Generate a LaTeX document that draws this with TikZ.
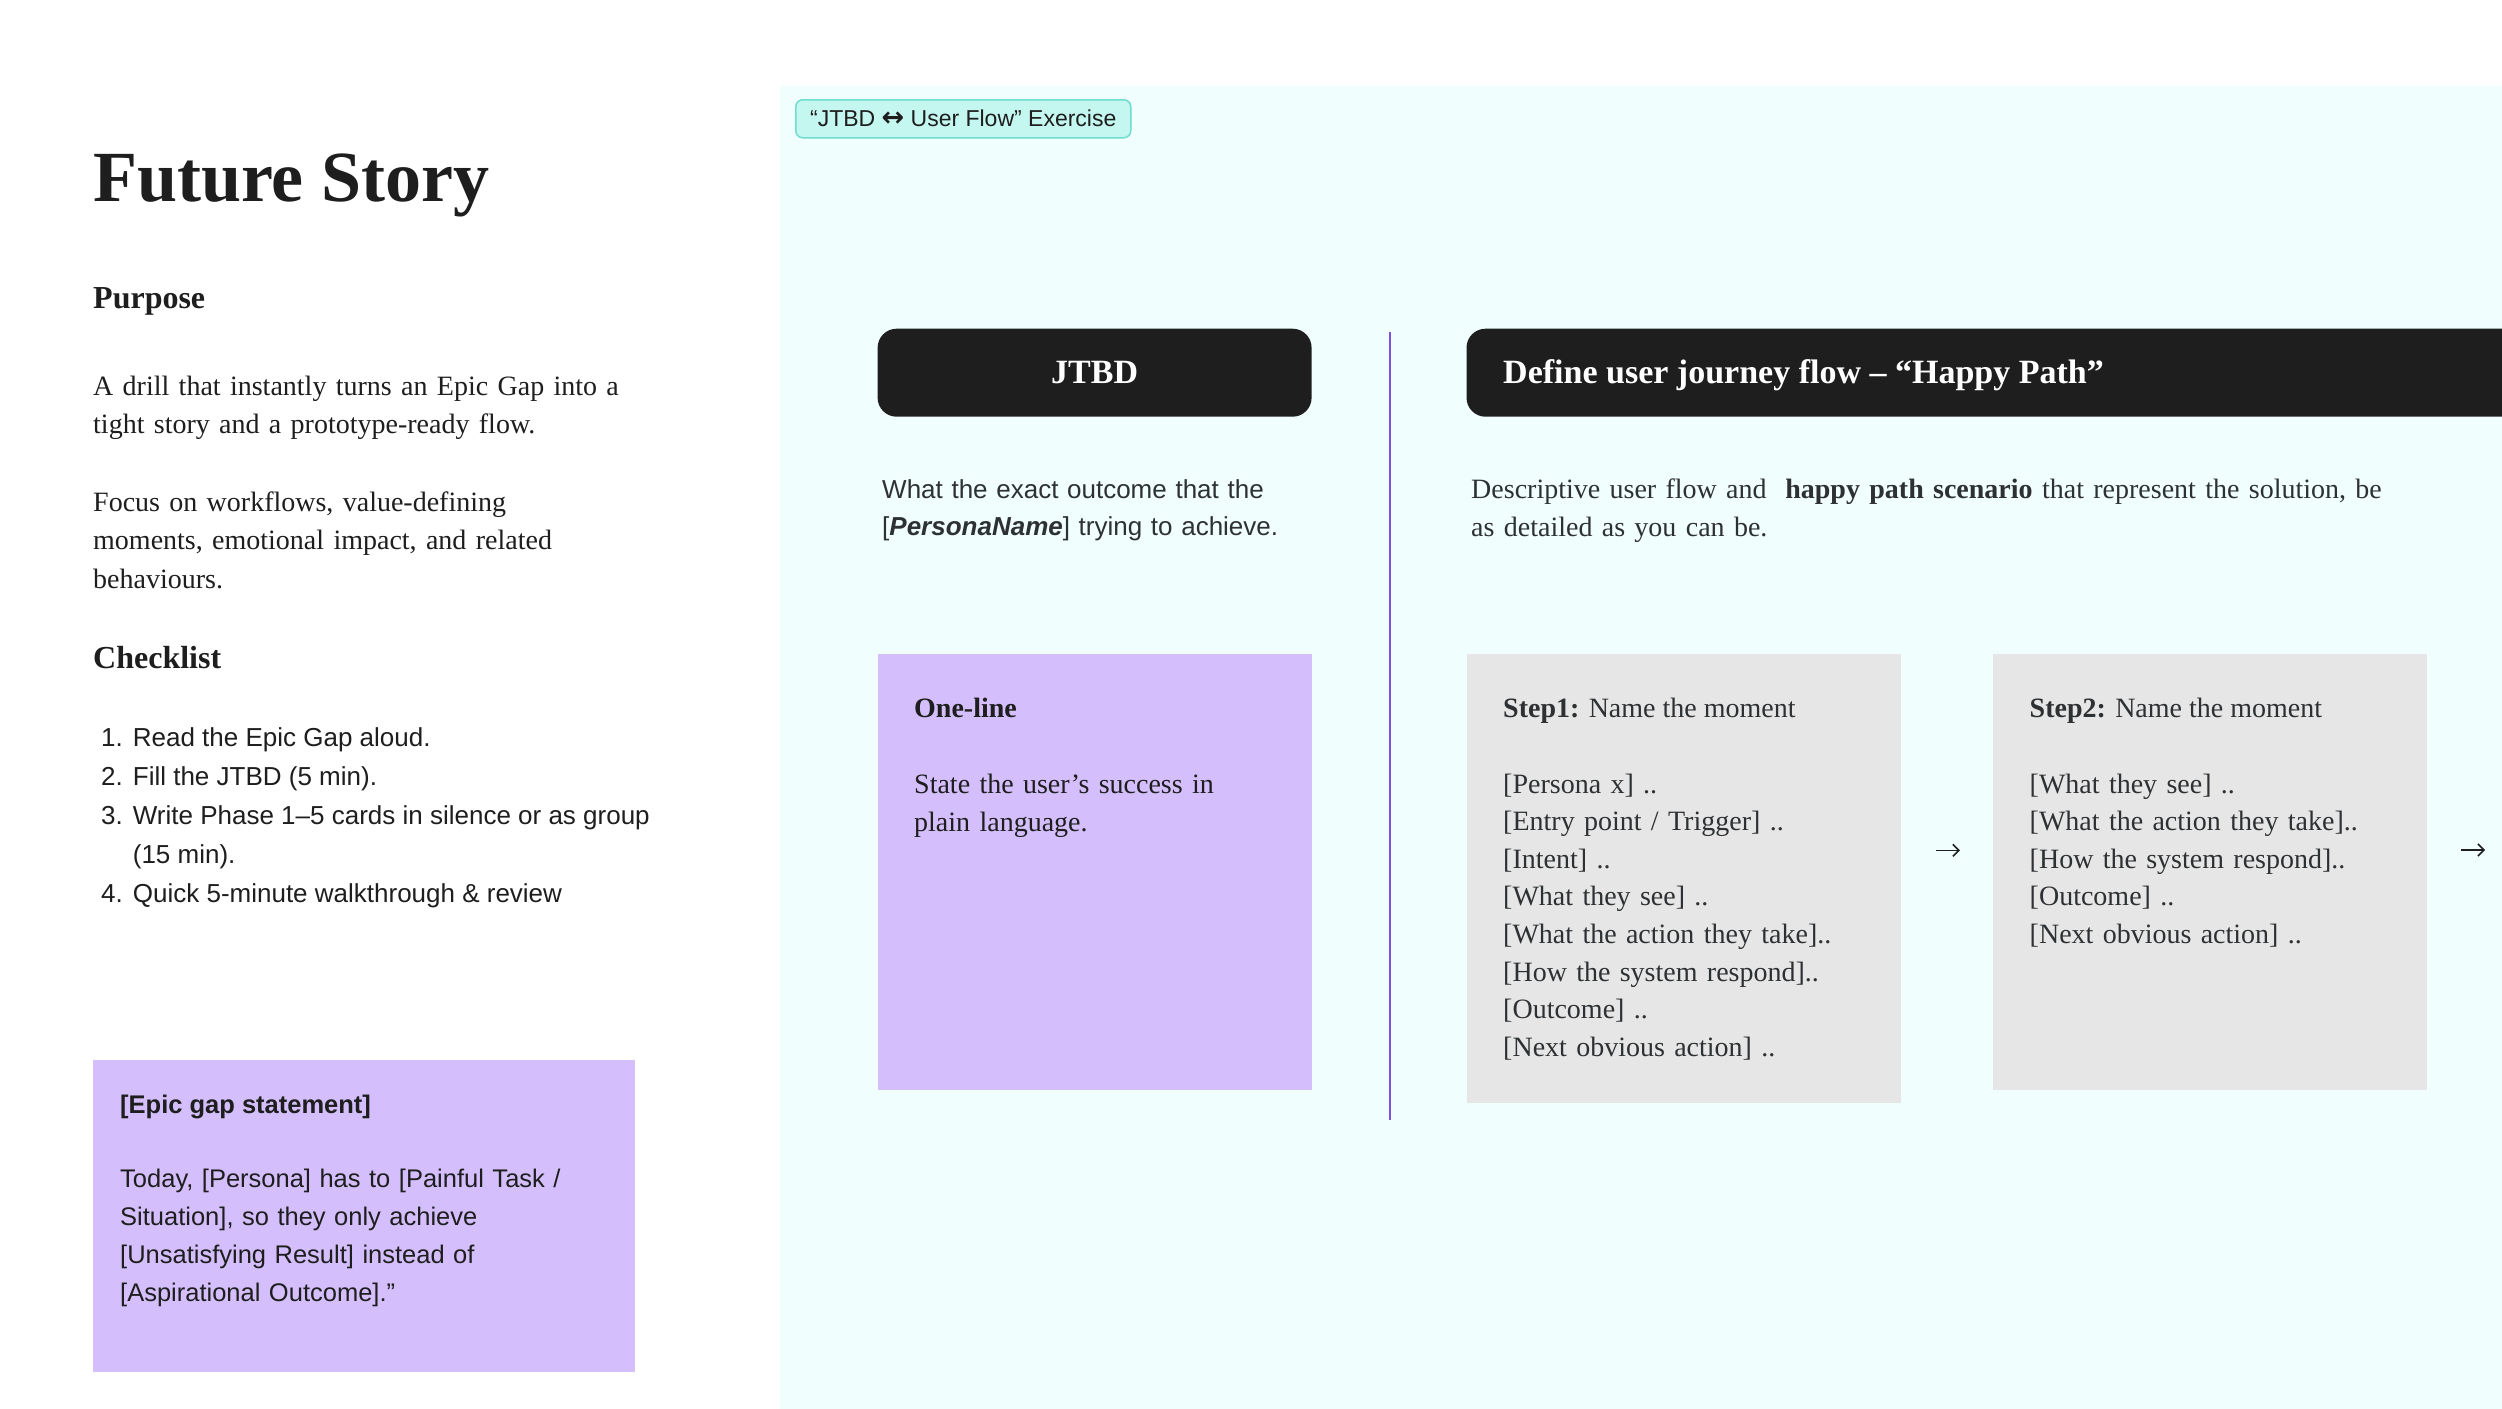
\documentclass[tikz,border=0pt]{standalone}
\usepackage{fontspec}
\setmainfont{Liberation Serif}
\setsansfont{Liberation Sans}
\newfontfamily\arrowfont{DejaVu Sans}
\usetikzlibrary{positioning, calc, arrows.meta}
\definecolor{ink}{HTML}{1E1E1E}
\definecolor{softink}{HTML}{2E3133}
\definecolor{lavanda}{HTML}{D4BFFC}
\definecolor{papel}{HTML}{E6E6E6}
\definecolor{lienzo}{HTML}{F0FEFE}
\definecolor{etiqueta}{HTML}{C5F7F1}
\definecolor{borde}{HTML}{6EDCD0}
\definecolor{divisor}{HTML}{7C4FE0}
\newcommand{\fttitle}{\fontsize{72}{80}\selectfont\bfseries}
\newcommand{\fthead}{\fontsize{32}{38}\selectfont\bfseries}
\newcommand{\ftbody}{\fontsize{28}{38.8}\selectfont}
\newcommand{\ftcard}{\fontsize{28}{37.6}\selectfont}
\newcommand{\ftlist}{\fontsize{26}{39}\selectfont\sffamily}
\newcommand{\ftdesc}{\fontsize{26}{37.5}\selectfont\sffamily}
\newcommand{\ftnote}{\fontsize{25.5}{38}\selectfont\sffamily}
\newcommand{\fttag}{\fontsize{23}{28}\selectfont\sffamily}
\newcommand{\ftbar}{\fontsize{34}{40}\selectfont\bfseries}
\tikzstyle{card} = [anchor=north west, inner sep=0pt, outer sep=0pt, minimum width=434pt]
\tikzstyle{purplecard} = [card, fill=lavanda]
\tikzstyle{greycard} = [card, fill=papel]
\tikzstyle{blackbar} = [anchor=north west, fill=ink, rounded corners=19pt, inner sep=0pt, outer sep=0pt, minimum height=88pt]
\tikzstyle{txt} = [anchor=base west, inner sep=0pt, text=ink]
\tikzstyle{flowarrow} = [line width=1.6pt, ink, -{Straight Barb[length=6pt,width=12pt]}]

\begin{document}
\begin{tikzpicture}[x=1pt, y=-1pt]
	\useasboundingbox (0,0) rectangle (2502,1408);
	\fill[white] (0,0) rectangle (2502,1408);
	\fill[lienzo, rounded corners=4pt] (780,86) rectangle (2540,1450);

	% left column
	\node[txt, font=\fttitle] (title) at (93,201) {Future Story};
	\node[txt, font=\fthead] (purpose) at (93,308) {Purpose};
	\node[txt, font=\ftbody, text width=620pt, align=left] (drill) at (93,395) {%
		A drill that instantly turns an Epic Gap into a\\
		tight story and a prototype-ready flow.};
	\node[txt, font=\ftbody, text width=620pt, align=left] (focus) at (93,511) {%
		Focus on workflows, value-defining\\
		moments, emotional impact, and related\\
		behaviours.};
	\node[txt, font=\fthead] (checklist) at (93,668) {Checklist};
	\node[txt, font=\ftlist] (steps) at (101,746) {%
		\begin{tabular}[t]{@{}l@{\hspace{10pt}}l@{}}
			1. & Read the Epic Gap aloud.\\
			2. & Fill the JTBD (5 min).\\
			3. & Write Phase 1–5 cards in silence or as group\\
			   & (15 min).\\
			4. & Quick 5-minute walkthrough \& review
		\end{tabular}};

	\node[purplecard, minimum width=542pt, minimum height=312pt] (epic) at (92.5,1059.5) {};
	\node[txt, font=\ftnote\bfseries] (epictitle) at ([xshift=27.5pt, yshift=-53.5pt]epic.north west) {[Epic gap statement]};
	\node[txt, font=\ftnote, text width=500pt, align=left] (epictext) at ([xshift=27.5pt, yshift=-127.5pt]epic.north west) {%
		Today, [Persona] has to [Painful Task /\\
		Situation], so they only achieve\\{}%
		[Unsatisfying Result] instead of\\{}%
		[Aspirational Outcome].”};

	% exercise panel
	\node[anchor=north west, fill=etiqueta, draw=borde, line width=1.5pt, rounded corners=7pt, minimum width=335pt, minimum height=38pt, inner sep=0pt, font=\fttag, text=ink] (exercise) at (795,99) {“JTBD {\arrowfont\bfseries\fontsize{27}{28}\selectfont ↔} User Flow” Exercise};

	\node[blackbar, minimum width=434pt] (jtbd) at (877.6,328.7) {};
	\node[anchor=base, inner sep=0pt, text=white, font=\ftbar] (jtbdlabel) at ([yshift=-54.3pt]jtbd.north) {JTBD};
	\node[txt, font=\ftdesc, text=softink, text width=420pt, align=left] (jtbddesc) at (882,498) {%
		What the exact outcome that the\\{}%
		[\textbf{\textit{PersonaName}}] trying to achieve.};

	\node[purplecard, minimum height=436pt] (oneline) at (877.6,654) {};
	\node[txt, font=\ftcard\bfseries] (onelinetitle) at ([xshift=36.4pt, yshift=-63pt]oneline.north west) {One-line};
	\node[txt, font=\ftbody, text width=380pt, align=left] (onelinetext) at ([xshift=36.4pt, yshift=-139pt]oneline.north west) {%
		State the user’s success in\\
		plain language.};

	\coordinate (divtop) at (1390,332);
	\coordinate (divbottom) at (1390,1120);
	\draw[divisor, line width=2pt] (divtop) -- (divbottom);

	\node[blackbar, minimum width=1100pt] (flowbar) at (1466.5,328.7) {};
	\node[txt, text=white, font=\ftbar] (flowlabel) at ([xshift=36.5pt, yshift=-54.3pt]flowbar.north west) {Define user journey flow – “Happy Path”};
	\node[txt, font=\ftbody, text=softink, text width=1000pt, align=left] (flowdesc) at (1471,498) {%
		Descriptive user flow and \ \textbf{happy path scenario} that represent the solution, be\\
		as detailed as you can be.};

	% steps
	\node[greycard, minimum height=448.6pt] (step1) at (1466.5,654) {};
	\node[txt, font=\ftcard, text=softink] (step1title) at ([xshift=36.5pt, yshift=-63pt]step1.north west) {\textbf{Step1:} Name the moment};
	\node[txt, font=\ftcard, text=softink, text width=400pt, align=left] (step1list) at ([xshift=36.5pt, yshift=-139pt]step1.north west) {%
		[Persona x] ..\\{}%
		[Entry point / Trigger] ..\\{}%
		[Intent] ..\\{}%
		[What they see] ..\\{}%
		[What the action they take]..\\{}%
		[How the system respond]..\\{}%
		[Outcome] ..\\{}%
		[Next obvious action] ..};

	\node[greycard, minimum height=436pt] (step2) at (1993,654) {};
	\node[txt, font=\ftcard, text=softink] (step2title) at ([xshift=36.5pt, yshift=-63pt]step2.north west) {\textbf{Step2:} Name the moment};
	\node[txt, font=\ftcard, text=softink, text width=400pt, align=left] (step2list) at ([xshift=36.5pt, yshift=-139pt]step2.north west) {%
		[What they see] ..\\{}%
		[What the action they take]..\\{}%
		[How the system respond]..\\{}%
		[Outcome] ..\\{}%
		[Next obvious action] ..};

	\coordinate (step3) at (2520,850);
	\draw[flowarrow, shorten <=35.5pt, shorten >=33pt] ([yshift=28pt]step1.east) -- ([yshift=28pt]step1.east -| step2.west);
	\draw[flowarrow, shorten <=34pt, shorten >=35pt] ([yshift=22pt]step2.east) -- (step3);
\end{tikzpicture}
\end{document}
